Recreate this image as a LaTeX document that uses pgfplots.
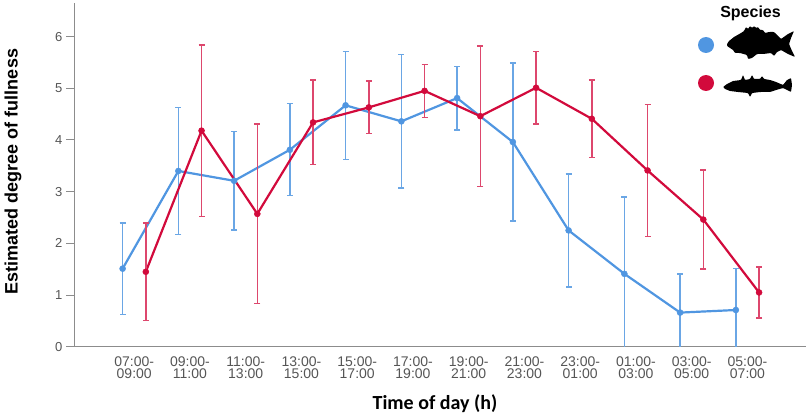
\documentclass[border=0pt]{standalone}
\usepackage{fontspec}
\setmainfont{Liberation Sans}
\newfontfamily\carlito{Carlito}
\usepackage{pgfplots}
\pgfplotsset{compat=1.18}
\definecolor{cblue}{HTML}{5096E1}
\definecolor{cred}{HTML}{D20A3C}
\definecolor{axgray}{HTML}{8C8C8C}
\definecolor{lblgray}{HTML}{555555}

\begin{document}
\begin{tikzpicture}
\path[use as bounding box] (0,0) rectangle (809pt,416pt);
\begin{axis}[
  at={(74pt,69.3pt)}, anchor=south west,
  scale only axis, width=732pt, height=343.7pt,
  xmin=-1.08, xmax=12.05, ymin=0, ymax=6.65,
  axis x line=bottom, axis y line=left,
  axis line style={-, draw=axgray, line width=1pt},
  xtick={0,...,11},
  xticklabels={{07:00-\\[-2.5pt]09:00},{09:00-\\[-2.5pt]11:00},{11:00-\\[-2.5pt]13:00},{13:00-\\[-2.5pt]15:00},{15:00-\\[-2.5pt]17:00},{17:00-\\[-2.5pt]19:00},{19:00-\\[-2.5pt]21:00},{21:00-\\[-2.5pt]23:00},{23:00-\\[-2.5pt]01:00},{01:00-\\[-2.5pt]03:00},{03:00-\\[-2.5pt]05:00},{05:00-\\[-2.5pt]07:00}},
  x tick style={draw=none},
  xticklabel style={align=center, font=\fontsize{14}{14}\selectfont, text=lblgray, yshift=1.5pt},
  ytick={0,...,6},
  y tick style={draw=axgray, line width=1pt},
  tick align=outside, major tick length=8pt,
  yticklabel style={font=\fontsize{13}{14}\selectfont, text=lblgray},
  /pgf/number format/assume math mode=true,
  clip=true,
]
\addplot[cblue, line width=2.2pt, mark=*, mark size=3pt, mark options={solid, line width=0.5pt}, xshift=-11.6pt,
  error bars/.cd, y dir=both, y explicit,
  error bar style={line width=1.4pt, cblue!85},
  error mark options={rotate=90, cblue!85, mark size=3pt, line width=1.4pt}]
coordinates {
(0,1.51) +- (0,0.885)
(1,3.40) +- (0,1.23)
(2,3.21) +- (0,0.95)
(3,3.81) +- (0,0.89)
(4,4.67) +- (0,1.045)
(5,4.36) +- (0,1.29)
(6,4.81) +- (0,0.615)
(7,3.96) +- (0,1.53)
(8,2.25) +- (0,1.095)
(9,1.41) +- (0,1.49)
(10,0.66) +- (0,0.75)
(11,0.71) +- (0,0.80)
};
\addplot[cred, line width=2.2pt, mark=*, mark size=3pt, mark options={solid, line width=0.5pt}, xshift=11.6pt,
  error bars/.cd, y dir=both, y explicit,
  error bar style={line width=1.4pt, cred!75},
  error mark options={rotate=90, cred!75, mark size=3pt, line width=1.4pt}]
coordinates {
(0,1.45) +- (0,0.94)
(1,4.18) +- (0,1.66)
(2,2.57) +- (0,1.735)
(3,4.34) +- (0,0.82)
(4,4.63) +- (0,0.51)
(5,4.95) +- (0,0.515)
(6,4.46) +- (0,1.355)
(7,5.01) +- (0,0.705)
(8,4.41) +- (0,0.75)
(9,3.41) +- (0,1.275)
(10,2.46) +- (0,0.96)
(11,1.05) +- (0,0.495)
};
\end{axis}
% axis titles
\node[rotate=90, anchor=base, font=\bfseries\fontsize{18}{18}\selectfont] at (17.5pt,244.5pt) {Estimated degree of fullness};
\node[anchor=base, font=\carlito\bfseries\fontsize{20}{20}\selectfont] at (435pt,7pt) {Time of day (h)};
% legend
\node[anchor=base, font=\bfseries\fontsize{16}{16}\selectfont] at (750.5pt,398.5pt) {Species};
\begin{scope}[shift={(0pt,416pt)}, x=1pt, y=-1pt]
\fill[cblue] (706,45) circle[radius=8pt];
\fill[cred] (706,83) circle[radius=8pt];
\fill[black, rounded corners=0.8pt] (727,44) -- (729,41) -- (734,37) -- (741,33) -- (744,31) -- (746,27) -- (748,29) -- (750,26) -- (752,28) -- (754,26) -- (756,28) -- (758,27) -- (760,30) -- (763,30) -- (765,33) -- (769,32) -- (774,32) -- (777,35) -- (781,39) -- (788,34) -- (794,31) -- (791,38) -- (789,44) -- (792,51) -- (795,57) -- (788,54) -- (781,50) -- (777,52) -- (774,56) -- (771,53) -- (763,54) -- (757,54) -- (752,58) -- (748,59) -- (747,55) -- (740,53) -- (735,53) -- (733,50) -- (730,48) -- (727,46) -- cycle;
\fill[black, rounded corners=0.8pt] (723,87) -- (727,84) -- (733,81) -- (741,80) -- (743,75) -- (745,80) -- (750,79) -- (752,75) -- (754,79) -- (760,79) -- (762,76) -- (764,79) -- (770,80) -- (776,82) -- (783,85) -- (787,80) -- (791,78) -- (792,85) -- (791,92) -- (787,90) -- (783,88) -- (776,90) -- (770,92) -- (760,92) -- (752,93) -- (750,97) -- (748,93) -- (738,92) -- (730,91) -- (725,89) -- cycle;
\end{scope}
\end{tikzpicture}
\end{document}
